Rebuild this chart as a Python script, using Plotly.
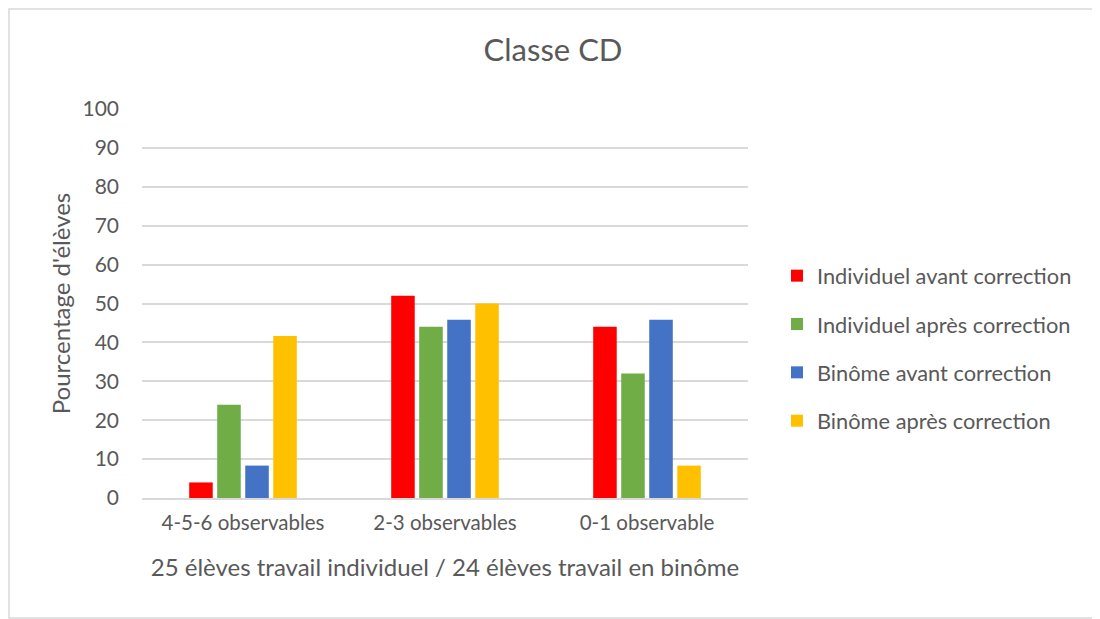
import plotly.graph_objects as go

categories = ["4-5-6 observables", "2-3 observables", "0-1 observable"]
series_names = [
    "Individuel avant correction",
    "Individuel après correction",
    "Binôme avant correction",
    "Binôme après correction",
]
indiv_avant = [4, 52, 44]
indiv_apres = [24, 44, 32]
binome_avant = [8.33, 45.83, 45.83]
binome_apres = [41.67, 50, 8.33]
colors = ["#FF0000", "#70AD47", "#4472C4", "#FFC000"]

FONT = "Lato"
GREY = "#595959"
OFF = 8  # page body margin: figure sits 8px in from window corner

fig = go.Figure()
for name, vals, col in zip(series_names,
                           [indiv_avant, indiv_apres, binome_avant, binome_apres],
                           colors):
    fig.add_trace(go.Bar(x=categories, y=vals, name=name, legendgroup=name,
                         marker=dict(color=col, line=dict(width=0))))

W, H = 1100, 619
# plot area in window pixels: x 142..748, y 109..498
L, T = 142 - OFF, 109 - OFF
R, B = W - (748 - OFF), H - (498 - OFF)
pw, ph = W - L - R, H - T - B


def px(x):
    return (x - OFF - L) / pw


def py(y):
    return (498 - y) / ph


fig.update_layout(
    width=W, height=H,
    margin=dict(l=L, r=R, t=T, b=B),
    paper_bgcolor="white", plot_bgcolor="white",
    font=dict(family=FONT, color=GREY, size=20),
    title=dict(text="Classe CD", x=px(553), xref="paper", xanchor="center",
               y=1 - (50 - OFF) / H, yanchor="middle",
               font=dict(size=31, color=GREY, family=FONT)),
    barmode="group", bargap=0.445, bargroupgap=0.16,
    xaxis=dict(showgrid=False, showline=True, linecolor="#D9D9D9", linewidth=1.5,
               ticks="", tickfont=dict(size=20.5, color=GREY), ticklabelstandoff=6,
               title=dict(text="25 élèves travail individuel / 24 élèves travail en binôme",
                          font=dict(size=24, color=GREY), standoff=26)),
    yaxis=dict(range=[0, 100], dtick=10, showgrid=True, gridcolor="#D9D9D9",
               gridwidth=1.5, zeroline=False, showline=False, ticks="",
               tickfont=dict(size=21, color=GREY), ticklabelstandoff=22,
               title=dict(text="Pourcentage d'élèves", font=dict(size=24, color=GREY),
                          standoff=5)),
    legend=dict(x=px(777), xanchor="left", y=py(255), yanchor="top",
                font=dict(size=21.8, color=GREY, family=FONT),
                tracegroupgap=17, itemwidth=30, bgcolor="rgba(0,0,0,0)"),
    shapes=[dict(type="rect", xref="paper", yref="paper",
                 x0=px(9), x1=px(1099),
                 y0=py(618), y1=py(9),
                 line=dict(color="#D9D9D9", width=1.5), fillcolor="rgba(0,0,0,0)",
                 layer="below")],
)

fig.write_html("out.html")
